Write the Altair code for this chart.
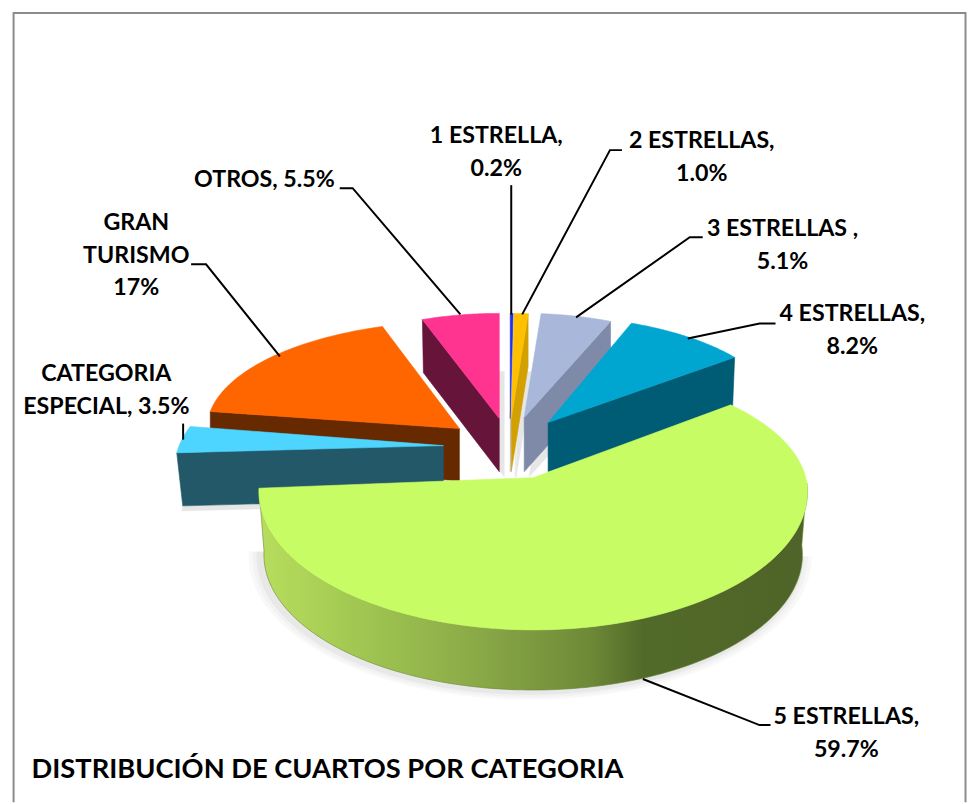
import numpy as np
import pandas as pd
import altair as alt

# ---- chart values ----
categories = ["1 ESTRELLA", "2 ESTRELLAS", "3 ESTRELLAS", "4 ESTRELLAS", "5 ESTRELLAS",
              "CATEGORIA ESPECIAL", "GRAN TURISMO", "OTROS"]
shares = [0.2, 1.0, 5.1, 8.2, 59.7, 3.5, 17.0, 5.5]

# ---- label texts ----
label_lines = [
    ["1 ESTRELLA,", "0.2%"], ["2 ESTRELLAS,", "1.0%"], ["3 ESTRELLAS ,", "5.1%"],
    ["4 ESTRELLAS,", "8.2%"], ["5 ESTRELLAS,", "59.7%"], ["CATEGORIA", "ESPECIAL, 3.5%"],
    ["GRAN", "TURISMO", "17%"], ["OTROS, 5.5%"],
]
chart_title = "DISTRIBUCIÓN DE CUARTOS POR CATEGORIA"

# ---- layout of the exploded 3D pie (apex x, y, radii, depth, perspective tweaks) ----
geom = {
    "1 ESTRELLA":         dict(cx=510, cy=417, rx=225, ry=105, d=53, a=0, b=0, bx=0, sk=0, top="#1F2FE8", side="#B9BDE0"),
    "2 ESTRELLAS":        dict(cx=511, cy=417, rx=225, ry=105, d=53, a=0, b=0, bx=0, sk=0, top="#FFC000", side="#D2A000"),
    "3 ESTRELLAS":        dict(cx=524, cy=416, rx=225, ry=104, d=54, a=0, b=0, bx=0, sk=0, top="#A9B7DA", side="#7F8AA8"),
    "4 ESTRELLAS":        dict(cx=548, cy=421, rx=237, ry=106, d=49, a=-2, b=0, bx=-2, sk=0, top="#00A5D0", side="#005B75"),
    "CATEGORIA ESPECIAL": dict(cx=443, cy=444, rx=265, ry=120, d=53, a=0, b=0, bx=6, sk=0.4, top="#4DD5FF", side="#225868"),
    "GRAN TURISMO":       dict(cx=459, cy=427, rx=253, ry=107, d=52, a=0, b=2, bx=0, sk=0, top="#FF6600", side="#662900"),
    "OTROS":              dict(cx=499, cy=417, rx=228, ry=105, d=53, a=0, b=0, bx=1, sk=0, top="#FF3390", side="#66143A"),
}
draw_order = ["OTROS", "1 ESTRELLA", "2 ESTRELLAS", "3 ESTRELLAS", "4 ESTRELLAS",
              "GRAN TURISMO", "CATEGORIA ESPECIAL"]
big = dict(cx=533, cy=490, rx=275, ry_back=125, ry_front=138, ax=533, ay=476,
           bcy=553, brx=270, bry=135, a=-6, b=5, top="#C8FC64")

total = sum(shares)
edges = np.cumsum([0.0] + shares) / total * 360.0
span = {c: (edges[i], edges[i + 1]) for i, c in enumerate(categories)}

# leader lines, from the label to the slice rim
leaders = [
    [(511, 184), (511, 313)],
    [(622, 149), (610, 149), (522, 313)],
    [(703, 236), (690, 236), (576, 316)],
    [(776, 322), (760, 322), (688, 337)],
    [(771, 723), (760, 723), (643, 677)],
    [(182, 422), (182, 438)],
    [(190, 263), (205, 263), (279, 355)],
    [(339, 187), (352, 187), (460, 313)],
]
label_anchor = [(496, 135), (702, 140), (783, 228), (853, 313), (847, 715), (105, 373), (135, 222), (263.5, 179)]
line_gap = 32.5
border = [(12, 800), (12, 12), (966.5, 12), (966.5, 800)]

X = alt.X("x:Q", axis=None, scale=alt.Scale(domain=[6.4, 968], nice=False, zero=False))
Y = alt.Y("y:Q", axis=None, scale=alt.Scale(domain=[798.5, 10.4], nice=False, zero=False))


def rim(g, a0, a1, n=40):
    t = np.radians(np.linspace(a0 + g["a"], a1 + g["b"], n))
    up = g["ry"] * np.cos(t)
    return g["cx"] + g["rx"] * np.sin(t) + g["sk"] * up, g["cy"] - up


def poly(xs, ys, fill):
    df = pd.DataFrame({"x": xs, "y": ys, "i": range(len(xs))})
    return alt.Chart(df).mark_line(
        fill=fill, stroke=fill if isinstance(fill, str) else "#6A8534", strokeWidth=0.6,
        interpolate="linear-closed"
    ).encode(x=X, y=Y, order="i:Q")


layers = []

# border
bdf = pd.DataFrame(border, columns=["x", "y"]).assign(i=range(len(border)))
layers.append(alt.Chart(bdf).mark_line(color="#8C8C8C", strokeWidth=2).encode(x=X, y=Y, order="i:Q"))

# soft shadow of the large slice
t = np.radians(np.linspace(90, 272, 90))
for grow, col in [(12, "#F8F8F8"), (8, "#F2F2F2"), (4, "#E8E8E8")]:
    layers.append(poly(big["cx"] + (big["brx"] + grow) * np.sin(t) - 3,
                       big["bcy"] + 2 - (big["bry"] + grow * 0.6) * np.cos(t), col))

# shadows of the exploded slices
for c in draw_order:
    g = geom[c]
    a0, a1 = span[c]
    xs, ys = rim(g, a0, a1)
    layers.append(poly(np.r_[g["cx"], xs] + 5, np.r_[g["cy"], ys] + g["d"] + 5, "#E6E6E6"))

# exploded slices, back to front
for c in draw_order:
    g = geom[c]
    a0, a1 = span[c]
    xs, ys = rim(g, a0, a1)
    # the radial face seen from the front
    fx, fy = (xs[-1], ys[-1]) if a0 < 180 else (xs[0], ys[0])
    layers.append(poly([fx, g["cx"], g["cx"], fx + g["bx"]], [fy, g["cy"], g["cy"] + g["d"], fy + g["d"]], g["side"]))
    layers.append(poly(np.r_[g["cx"], xs], np.r_[g["cy"], ys], g["top"]))

# the large slice: rim with a gradient, then its top
a0, a1 = span["5 ESTRELLAS"]
tr = np.radians(np.linspace(86, a1 + big["b"], 120))
top_y = big["cy"] - np.where(np.cos(tr) > 0, big["ry_back"], big["ry_front"]) * np.cos(tr)
side_x = np.r_[big["cx"] + big["rx"] * np.sin(tr), (big["cx"] + big["brx"] * np.sin(tr))[::-1]]
side_y = np.r_[top_y, (big["bcy"] - big["bry"] * np.cos(tr))[::-1]]
gradient = alt.Gradient(
    gradient="linear", x1=1, x2=0, y1=0, y2=0,
    stops=[alt.GradientStop(color="#4E6428", offset=0), alt.GradientStop(color="#526A29", offset=0.30),
           alt.GradientStop(color="#6F8A38", offset=0.40), alt.GradientStop(color="#8CAC48", offset=0.62),
           alt.GradientStop(color="#A5CB53", offset=0.85), alt.GradientStop(color="#B8DE5E", offset=1)],
)
layers.append(poly(side_x, side_y, gradient))

tt = np.radians(np.linspace(a0 + big["a"], a1 + big["b"], 160))
tx = big["cx"] + big["rx"] * np.sin(tt)
ty = big["cy"] - np.where(np.cos(tt) > 0, big["ry_back"], big["ry_front"]) * np.cos(tt)
layers.append(poly(np.r_[big["ax"], tx], np.r_[big["ay"], ty], big["top"]))

# leader lines
ld = pd.DataFrame([
    {"x": x, "y": y, "i": j, "k": categories[n]}
    for n, pts in enumerate(leaders) for j, (x, y) in enumerate(pts)
])
layers.append(alt.Chart(ld).mark_line(color="#000000", strokeWidth=2).encode(x=X, y=Y, order="i:Q", detail="k:N"))

# labels
lb = pd.DataFrame([
    {"x": label_anchor[n][0], "y": label_anchor[n][1] + m * line_gap, "t": s}
    for n, lines in enumerate(label_lines) for m, s in enumerate(lines)
])
layers.append(alt.Chart(lb).mark_text(font="Lato", fontWeight="bold", fontSize=23.4, color="#000000",
                                      align="center", baseline="middle").encode(x=X, y=Y, text="t:N"))
tdf = pd.DataFrame({"x": [30], "y": [768], "t": [chart_title]})
layers.append(alt.Chart(tdf).mark_text(font="Lato", fontWeight="bold", fontSize=27.5, color="#000000",
                                       align="left", baseline="middle").encode(x=X, y=Y, text="t:N"))

chart = alt.layer(*layers).properties(
    width=967, height=796, padding=0, background="#FFFFFF",
    autosize=alt.AutoSizeParams(type="none")
).configure_view(stroke=None)

chart.save("out.html", embed_options={"renderer": "svg", "actions": False})
